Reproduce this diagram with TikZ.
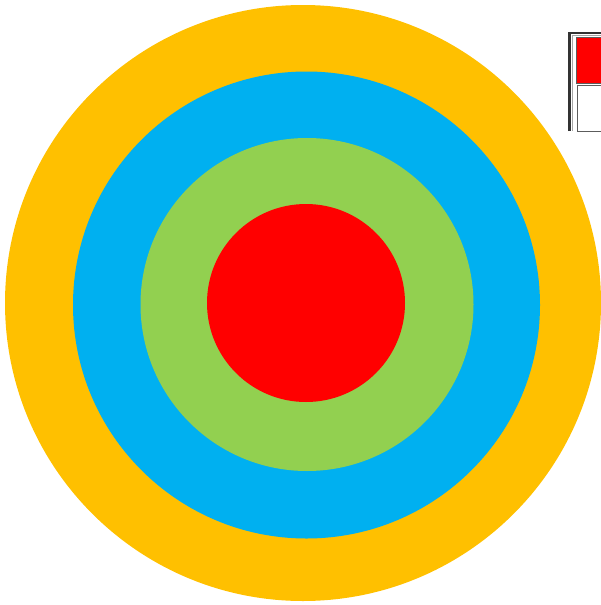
\documentclass[tikz,border=0pt]{standalone}
\definecolor{ringorange}{HTML}{FFC000}
\definecolor{ringblue}{HTML}{00B0F0}
\definecolor{ringgreen}{HTML}{92D050}
\definecolor{ringred}{HTML}{FF0000}
\definecolor{framegray}{HTML}{333333}
\tikzset{ring/.style={circle, draw=none, inner sep=0pt, minimum size=#1}}
\begin{document}
\begin{tikzpicture}[x=1pt,y=-1pt]
\useasboundingbox (0,0) rectangle (601,605);
\clip (0,0) rectangle (601,605);
\node[ring=596pt, fill=ringorange] (outer) at (303,303) {};
\node[ring=467pt, fill=ringblue] (blue) at (306.5,305) {};
\node[ring=333pt, fill=ringgreen] (green) at (307,304.5) {};
\node[ring=198pt, fill=ringred] (core) at (306,303) {};
\draw[framegray, line width=2.5pt] (569.5,131) -- (569.5,33) -- (610,33);
\draw[gray!70, line width=0.8pt] (572.5,131) -- (572.5,35.5) -- (610,35.5);
\node[draw=framegray!80, line width=1pt, fill=ringred, minimum width=40pt, minimum height=46pt, anchor=north west, inner sep=0pt] (redbox) at (575.5,37) {};
\node[draw=framegray!80, line width=0.8pt, fill=white, minimum width=40pt, minimum height=46pt, anchor=north west, inner sep=0pt] (whitebox) at (576.5,84.5) {};
\end{tikzpicture}
\end{document}
